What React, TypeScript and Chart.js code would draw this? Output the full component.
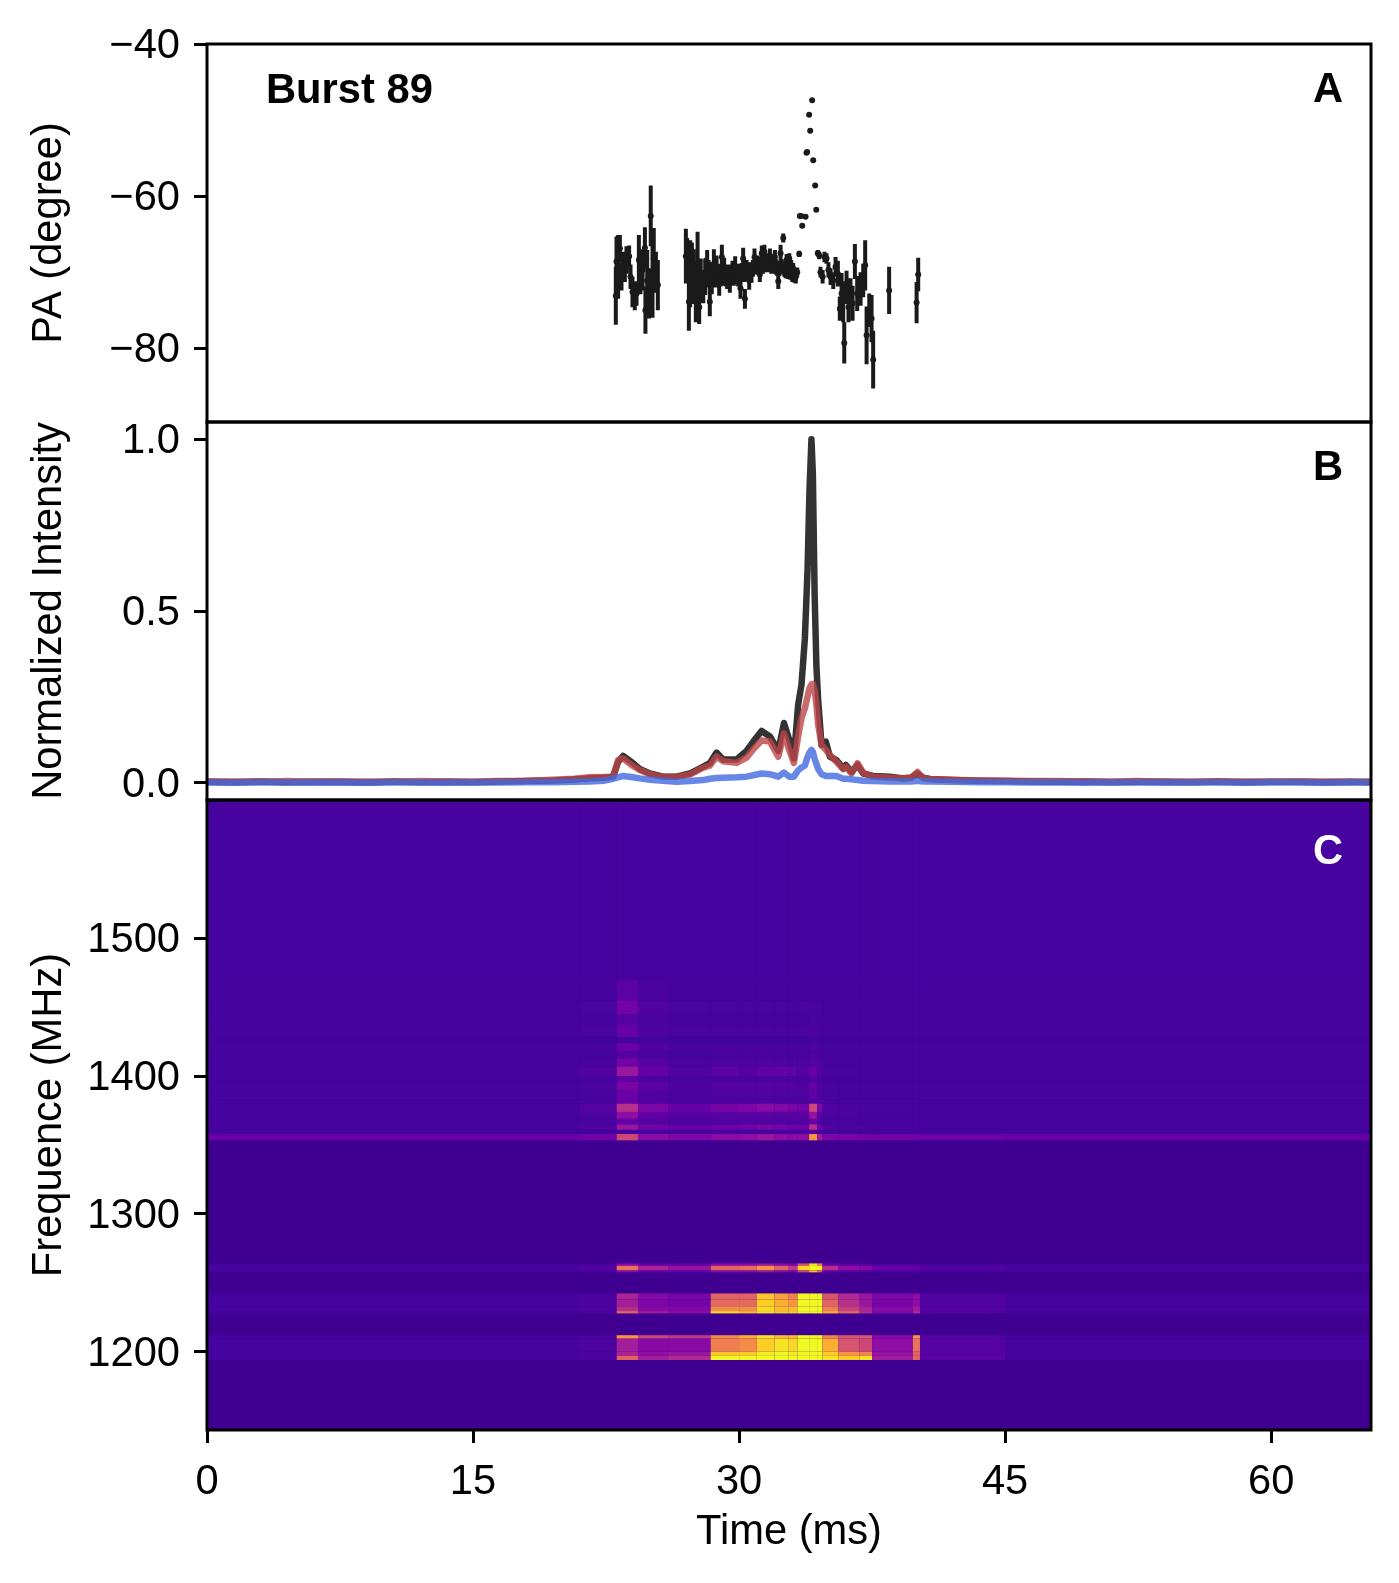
import { useRef, useEffect } from 'react';
import Chart from 'chart.js/auto';

// PA points (ms, degree, half error bar)
const paTime = [23.05, 23.09, 23.18, 23.28, 23.37, 23.46, 23.56, 23.65, 23.80, 23.88, 23.99, 24.12, 24.22, 24.35, 24.44, 24.56, 24.69, 24.72, 24.82, 24.93, 25.02, 25.12, 25.19, 25.31, 25.42,
    27.00, 27.07, 27.17, 27.24, 27.34, 27.43, 27.56, 27.66, 27.75, 27.84, 27.98, 28.09, 28.20, 28.35, 28.46, 28.58, 28.73, 28.88, 29.03, 29.16, 29.33, 29.48, 29.63, 29.78, 29.95, 30.08, 30.23, 30.33, 30.42, 30.57, 30.70, 30.87, 31.04, 31.17, 31.28, 31.43, 31.58, 31.74, 31.89, 32.02, 32.15, 32.21, 32.34, 32.41, 32.49, 32.68, 32.83, 32.94, 33.05, 33.20, 33.28, 33.39,
    33.43, 33.50, 33.56, 33.75, 33.80, 33.84, 33.95, 34.01, 34.12, 34.18, 34.29, 34.35,
    34.44, 34.52, 34.59, 34.71, 34.82, 34.93, 35.04, 35.16, 35.31, 35.44, 35.57, 35.68, 35.78, 35.87, 35.93, 36.06, 36.17, 36.28, 36.40, 36.53, 36.66, 36.85, 37.00, 37.11, 37.19, 37.34, 37.47, 37.56, 38.46, 40.01, 40.10,
    28.15, 28.28, 28.40, 28.52, 28.65, 28.80, 28.95, 29.10, 29.25, 29.40, 29.55, 29.70, 29.87, 30.02, 30.15, 30.28, 30.48, 30.63, 30.78, 30.95, 31.10, 31.22, 31.35, 31.50, 31.66, 31.82, 31.95, 32.08, 32.27, 32.55, 32.62, 32.75, 32.88, 33.00, 33.12];
const paValue = [-73.1, -68.6, -69.3, -66.9, -70.6, -68.9, -69.7, -68.4, -67.9, -70.6, -72.6, -73.2, -72.8, -68.4, -70.2, -69.7, -66.8, -75.0, -71.1, -72.8, -62.6, -70.2, -68.2, -70.0, -71.7,
    -67.9, -68.4, -73.9, -70.2, -69.7, -70.6, -72.8, -68.9, -74.6, -71.1, -71.9, -70.6, -69.3, -73.9, -71.1, -68.9, -69.5, -71.5, -68.0, -69.7, -70.6, -71.1, -70.0, -69.3, -70.4, -72.1, -68.2, -73.5, -69.7, -71.1, -70.2, -68.0, -68.9, -70.3, -67.5, -67.3, -68.4, -67.8, -68.6, -68.0, -69.5, -71.2, -67.5, -69.3, -65.5, -68.4, -68.2, -69.1, -69.5, -70.6, -70.0, -67.6,
    -62.6, -62.6, -63.9, -62.7, -54.3, -54.2, -49.3, -51.4, -47.4, -55.3, -58.6, -61.8,
    -67.5, -67.8, -70.0, -70.6, -68.0, -68.2, -69.7, -70.6, -71.1, -69.3, -70.2, -74.8, -72.8, -73.9, -79.3, -72.0, -74.6, -72.8, -74.1, -68.6, -72.8, -72.2, -71.1, -69.1, -78.3, -75.0, -76.1, -81.5, -72.4, -74.0, -70.3,
    -70.0, -70.2, -70.4, -70.3, -70.4, -70.6, -70.4, -70.3, -70.5, -70.6, -70.4, -70.5, -70.3, -70.6, -70.0, -70.1, -70.0, -69.8, -69.5, -69.2, -69.4, -69.0, -69.2, -69.0, -69.0, -69.2, -69.2, -69.3, -69.5, -69.6, -69.8, -69.9, -70.0, -70.3, -70.5];
const paError = [3.8, 3.3, 4.2, 1.8, 1.8, 1.6, 1.6, 1.8, 1.4, 1.6, 2.0, 1.8, 1.6, 3.3, 2.7, 2.7, 2.7, 3.1, 4.0, 3.3, 4.0, 5.8, 4.0, 2.7, 3.3,
    3.6, 2.9, 3.8, 4.4, 3.6, 3.6, 3.8, 4.2, 2.2, 2.9, 2.2, 2.4, 2.2, 1.9, 1.8, 1.9, 1.7, 1.6, 1.6, 1.6, 1.6, 1.6, 1.5, 1.4, 1.5, 1.4, 1.4, 1.3, 1.3, 1.2, 1.2, 1.1, 1.1, 1.0, 1.0, 0.9, 0.9, 0.9, 0.9, 0.9, 1.0, 1.0, 1.1, 1.0, 0.6, 0.8, 0.7, 0.7, 0.7, 0.9, 0.6, 0.4,
    0.2, 0.2, 0.2, 0.2, 0.2, 0.2, 0.2, 0.2, 0.2, 0.2, 0.2, 0.2,
    0.4, 0.5, 0.7, 0.9, 0.7, 0.7, 1.0, 1.1, 1.1, 1.3, 1.7, 1.6, 2.7, 2.7, 2.7, 2.2, 2.0, 2.0, 2.3, 2.3, 2.3, 2.2, 2.2, 3.3, 3.8, 2.2, 3.1, 3.8, 3.1, 2.7, 2.2,
    1.9, 1.8, 1.7, 1.6, 1.6, 1.4, 1.5, 1.5, 1.4, 1.4, 1.4, 1.3, 1.3, 1.3, 1.2, 1.2, 1.2, 1.1, 1.1, 1.1, 1.0, 1.0, 1.0, 1.0, 1.0, 1.0, 1.0, 1.0, 1.0, 1.0, 1.0, 1.0, 1.0, 1.0, 0.9];

// pulse profiles
const profileTime = [0, 1.5, 3, 4.5, 6, 7.5, 9, 10.5, 12, 13.5, 15, 16.5, 18, 19.5, 20.7,
    21.59, 22.34, 22.90, 23.18, 23.46, 23.93, 24.40, 24.97, 25.72, 26.47, 27.22, 27.98, 28.35, 28.73, 29.10, 29.86, 30.42, 30.80, 31.27, 31.74, 32.21, 32.53, 32.83, 33.09, 33.33, 33.52, 33.71, 33.86, 33.97, 34.08, 34.16, 34.26, 34.36, 34.46, 34.65, 34.89, 35.12, 35.49, 35.87, 36.02, 36.34, 36.68, 37.00, 37.56, 38.50, 39.25, 39.72, 40.06, 40.38, 40.76,
    42, 43.5, 45, 46.5, 48, 49.5, 51, 52.5, 54, 55.5, 57, 58.5, 60, 61.5, 63, 64.5, 65.63];
const totalIntensity = [.003, .002, .004, .002, .003, .003, .001, .004, .002, .003, .002, .004, .005, .007, .010,
    .013, .015, .018, .061, .078, .061, .040, .027, .018, .018, .027, .047, .057, .088, .068, .068, .093, .120, .151, .135, .093, .174, .125, .071, .227, .286, .42, .62, .85, 1.0, .9, .55, .34, .24, .110, .120, .076, .066, .042, .052, .032, .052, .027, .020, .018, .013, .015, .027, .015, .011,
    .008, .006, .005, .004, .003, .004, .002, .003, .003, .002, .004, .002, .003, .003, .002, .003, .002];
const linearIntensity = [.004, .004, .003, .005, .003, .004, .004, .003, .005, .004, .004, .005, .006, .009, .012,
    .016, .017, .018, .066, .071, .052, .037, .025, .018, .018, .024, .044, .050, .076, .063, .058, .073, .098, .123, .120, .076, .144, .095, .058, .135, .188, .217, .251, .275, .286, .288, .270, .227, .169, .110, .096, .081, .061, .040, .047, .027, .057, .029, .018, .015, .013, .016, .032, .013, .011,
    .009, .007, .006, .005, .005, .004, .004, .005, .003, .004, .004, .004, .003, .004, .004, .003, .004];
const circularIntensity = [.001, .000, .001, .001, .000, .001, .000, .001, .001, .000, .001, .001, .002, .002, .003,
    .004, .006, .012, .016, .020, .017, .013, .009, .006, .003, .005, .008, .012, .014, .015, .016, .018, .022, .027, .025, .018, .030, .018, .018, .036, .045, .050, .075, .088, .096, .090, .070, .055, .040, .025, .020, .020, .020, .012, .012, .010, .008, .006, .005, .004, .004, .004, .006, .004, .004,
    .003, .002, .002, .001, .001, .000, .001, .001, .000, .001, .001, .000, .001, .001, .000, .001, .001];

// dynamic spectrum: coarse cells, value 0..1 on the plasma map
const heatTimeEdges = [0, 21, 23.1, 24.3, 26, 28.4, 30, 31, 32, 32.8, 33.3, 33.95, 34.4, 34.7, 35.6, 36.8, 37.5, 39.8, 40.2, 45, 65.63];
const heatFreqHigh = [1600, 1470, 1455, 1445, 1437, 1428, 1424, 1418, 1413, 1407, 1400, 1396, 1390, 1383, 1380, 1374, 1369, 1365, 1361, 1358, 1264.1, 1262.3, 1259, 1242.3, 1238, 1233, 1229.5, 1212, 1209.5, 1200, 1197];
const heatFreqLow = [1470, 1455, 1445, 1437, 1428, 1424, 1418, 1413, 1407, 1400, 1396, 1390, 1383, 1380, 1374, 1369, 1365, 1361, 1358, 1353.4, 1262.3, 1259, 1257.6, 1238, 1233, 1229.5, 1227.8, 1209.5, 1200, 1197, 1194];
const heatValues = [
    [.115, .115, .115, .115, .115, .115, .115, .115, .115, .115, .115, .115, .115, .115, .115, .115, .115, .115, .115, .115],
    [.115, .115, .16, .125, .115, .115, .115, .115, .115, .115, .115, .115, .115, .115, .115, .115, .115, .115, .115, .115],
    [.115, .12, .22, .14, .12, .12, .12, .12, .12, .12, .12, .125, .12, .115, .115, .115, .115, .115, .115, .115],
    [.115, .115, .15, .12, .115, .115, .115, .115, .115, .115, .115, .12, .115, .115, .115, .115, .115, .115, .115, .115],
    [.115, .12, .19, .13, .12, .12, .12, .12, .12, .12, .12, .13, .12, .115, .115, .115, .115, .115, .115, .115],
    [.105, .105, .105, .105, .105, .105, .105, .105, .105, .105, .105, .105, .105, .105, .105, .105, .105, .105, .105, .105],
    [.115, .12, .2, .14, .125, .125, .125, .125, .125, .125, .125, .14, .125, .115, .115, .115, .115, .115, .115, .115],
    [.115, .115, .15, .12, .115, .12, .12, .12, .12, .12, .12, .13, .12, .115, .115, .115, .115, .115, .115, .115],
    [.115, .12, .22, .15, .125, .13, .13, .135, .135, .13, .13, .15, .13, .115, .115, .115, .115, .115, .115, .115],
    [.115, .14, .33, .19, .135, .16, .15, .17, .18, .16, .15, .2, .15, .12, .12, .115, .115, .115, .115, .115],
    [.115, .12, .17, .13, .12, .125, .125, .125, .125, .125, .125, .14, .125, .115, .115, .115, .115, .115, .115, .115],
    [.115, .12, .24, .16, .135, .15, .15, .15, .15, .15, .145, .19, .145, .12, .12, .115, .115, .115, .115, .115],
    [.115, .12, .2, .14, .125, .135, .135, .135, .135, .135, .135, .17, .135, .12, .115, .115, .115, .115, .115, .115],
    [.115, .12, .2, .14, .125, .13, .13, .13, .13, .13, .13, .15, .13, .115, .115, .115, .115, .115, .115, .115],
    [.115, .15, .42, .25, .19, .23, .25, .28, .26, .24, .22, .5, .25, .14, .13, .12, .12, .12, .115, .115],
    [.115, .13, .3, .18, .15, .155, .155, .16, .155, .155, .155, .32, .16, .125, .12, .115, .115, .115, .115, .115],
    [.115, .12, .18, .14, .13, .135, .135, .135, .135, .135, .135, .2, .135, .115, .115, .115, .115, .115, .115, .115],
    [.115, .14, .33, .22, .19, .21, .22, .24, .23, .21, .21, .42, .21, .14, .13, .12, .12, .12, .115, .115],
    [.105, .105, .11, .11, .11, .11, .11, .11, .11, .11, .11, .17, .11, .105, .105, .105, .105, .105, .105, .105],
    [.2, .22, .5, .29, .25, .29, .3, .33, .3, .29, .3, .75, .35, .25, .24, .23, .22, .22, .21, .2],
    [.11, .12, .3, .2, .18, .3, .3, .35, .3, .25, .55, .95, .7, .2, .17, .15, .13, .13, .12, .11],
    [.12, .15, .65, .38, .32, .6, .63, .75, .6, .45, .92, 1, 1, .42, .3, .27, .2, .2, .15, .12],
    [.11, .12, .3, .2, .18, .3, .3, .35, .3, .25, .5, .85, .6, .2, .17, .15, .13, .13, .12, .11],
    [.115, .13, .38, .27, .24, .6, .6, .88, .78, .7, 1, 1, 1, .55, .4, .33, .25, .3, .14, .115],
    [.115, .13, .36, .25, .23, .62, .62, .9, .82, .75, 1, 1, 1, .6, .42, .33, .24, .3, .14, .115],
    [.115, .13, .42, .28, .26, .72, .72, .92, .85, .85, 1, 1, 1, .68, .48, .38, .27, .35, .15, .115],
    [.115, .13, .6, .35, .3, .92, .85, .95, .9, .9, 1, 1, 1, .82, .62, .4, .26, .4, .14, .115],
    [.115, .13, .75, .5, .45, .72, .82, .95, .85, .85, 1, 1, 1, .7, .55, .55, .28, .75, .15, .115],
    [.115, .13, .36, .28, .28, .68, .72, .9, .95, .92, 1, 1, 1, .82, .55, .5, .3, .65, .15, .115],
    [.115, .13, .38, .3, .33, .88, .9, .98, 1, .98, 1, 1, 1, .9, .75, .7, .32, .6, .15, .115],
    [.115, .13, .6, .36, .4, 1, 1, 1, 1, 1, 1, 1, 1, .95, .9, .95, .35, .6, .16, .115],
];

const timeTicks = [0, 15, 30, 45, 60];
const paTicks = [-80, -60, -40];
const intensityTicks = [0, 0.5, 1];
const freqTicks = [1200, 1300, 1400, 1500];

const plasmaStops = ['#0d0887', '#41049d', '#6a00a8', '#8f0da4', '#b12a90', '#cc4778', '#e16462', '#f2844b', '#fca636', '#fcce25', '#f0f921'];
const FONT = '"Liberation Sans", Arial, sans-serif';
const FONT_SIZE = 41.7;

function plasma(v: number) {
    const pos = Math.min(Math.max(v, 0), 1) * 10;
    const i = Math.min(Math.floor(pos), 9);
    const f = pos - i;
    const a = plasmaStops[i];
    const b = plasmaStops[i + 1];
    const ch = (s: string, k: number) => parseInt(s.slice(k, k + 2), 16);
    const mix = (k: number) => Math.round(ch(a, k) + (ch(b, k) - ch(a, k)) * f);
    return `rgb(${mix(1)},${mix(3)},${mix(5)})`;
}

const spectrumPlugin = {
    id: 'spectrum',
    beforeDatasetsDraw(chart: any) {
        const { ctx, scales } = chart;
        const x = scales.x;
        const y = scales.yC;
        ctx.save();
        ctx.fillStyle = '#3f0092';
        ctx.fillRect(x.left, y.top, x.width, y.height);
        heatValues.forEach((row, r) => {
            const top = y.getPixelForValue(heatFreqHigh[r]);
            const bottom = y.getPixelForValue(heatFreqLow[r]);
            row.forEach((v, c) => {
                const left = x.getPixelForValue(heatTimeEdges[c]);
                const right = x.getPixelForValue(heatTimeEdges[c + 1]);
                ctx.fillStyle = plasma(v);
                ctx.fillRect(left, top, right - left, bottom - top);
            });
        });
        ctx.restore();
    },
    afterDatasetsDraw(chart: any) {
        const { ctx, scales } = chart;
        const x = scales.x;
        ctx.save();
        ctx.strokeStyle = '#000';
        ctx.lineWidth = 3;
        [scales.yA, scales.yB, scales.yC].forEach((y: any) => {
            ctx.strokeRect(x.left, y.top, x.width, y.height);
        });
        ctx.fillStyle = '#000';
        ctx.textBaseline = 'middle';
        ctx.font = `bold ${FONT_SIZE}px ${FONT}`;
        ctx.textAlign = 'left';
        ctx.fillText('Burst 89', x.left + 59, scales.yA.top + 48);
        ctx.textAlign = 'right';
        ctx.fillText('A', x.right - 28, scales.yA.top + 47);
        ctx.fillText('B', x.right - 28, scales.yB.top + 47);
        ctx.fillStyle = '#fff';
        ctx.fillText('C', x.right - 28, scales.yC.top + 53);
        ctx.restore();
    },
};

const tickOptions = {
    color: '#000',
    font: { family: FONT, size: FONT_SIZE },
    padding: 14,
    autoSkip: false,
    maxRotation: 0,
};

const gridOptions = {
    drawOnChartArea: false,
    drawTicks: true,
    tickLength: 13,
    tickWidth: 3,
    tickColor: '#000',
};

function yAxis(title: string, min: number, max: number, ticks: number[], weight: number, order: number, format: (v: number) => string) {
    return {
        type: 'linear',
        position: 'left',
        stack: 'panels',
        stackWeight: weight,
        weight: order,
        min,
        max,
        border: { display: false },
        grid: gridOptions,
        afterFit(scale: any) {
            scale.width = 207;
        },
        afterBuildTicks(scale: any) {
            scale.ticks = ticks.map((value) => ({ value }));
        },
        ticks: {
            ...tickOptions,
            labelOffset: 2.5,
            callback: (v: any) => format(Number(v)),
        },
        title: {
            display: true,
            text: title,
            color: '#000',
            font: { family: FONT, size: FONT_SIZE },
            padding: { top: 24, bottom: 0 },
        },
    };
}

export default function App() {
    const chartRef = useRef<HTMLCanvasElement>(null);

    useEffect(() => {
        if (!chartRef.current) return;

        const errorBars: any[] = [];
        paTime.forEach((t, i) => {
            errorBars.push({ x: t, y: paValue[i] - paError[i] });
            errorBars.push({ x: t, y: paValue[i] + paError[i] });
            errorBars.push({ x: t, y: null });
        });
        const profile = (values: number[]) => values.map((v, i) => ({ x: profileTime[i], y: v }));
        const profileStyle = {
            type: 'line',
            yAxisID: 'yB',
            borderWidth: 6.5,
            borderJoinStyle: 'round',
            borderCapStyle: 'round',
            pointRadius: 0,
        };

        // first dataset is painted last in Chart.js, so the top layer comes first
        const chart = new Chart(chartRef.current, {
            type: 'scatter',
            data: {
                datasets: [
                    {
                        type: 'scatter',
                        label: 'PA',
                        yAxisID: 'yA',
                        data: paTime.map((t, i) => ({ x: t, y: paValue[i] })),
                        backgroundColor: '#1a1a1a',
                        pointRadius: 3,
                        borderWidth: 0,
                    },
                    {
                        type: 'line',
                        label: 'PA error',
                        yAxisID: 'yA',
                        data: errorBars,
                        borderColor: '#1a1a1a',
                        borderWidth: 4,
                        borderCapStyle: 'butt',
                        pointRadius: 0,
                        spanGaps: false,
                    },
                    {
                        ...profileStyle,
                        label: 'V',
                        data: profile(circularIntensity),
                        borderColor: 'rgba(65,105,225,0.8)',
                    },
                    {
                        ...profileStyle,
                        label: 'L',
                        data: profile(linearIntensity),
                        borderColor: 'rgba(187,69,73,0.8)',
                    },
                    {
                        ...profileStyle,
                        label: 'I',
                        data: profile(totalIntensity),
                        borderColor: 'rgba(0,0,0,0.8)',
                    },
                ],
            },
            options: {
                animation: false,
                responsive: false,
                devicePixelRatio: 1,
                layout: { padding: { top: 44, right: 28, bottom: 0, left: 0 } },
                plugins: {
                    legend: { display: false },
                    tooltip: { enabled: false },
                },
                scales: {
                    x: {
                        type: 'linear',
                        position: 'bottom',
                        min: 0,
                        max: 65.63,
                        border: { display: false },
                        grid: gridOptions,
                        afterFit(scale: any) {
                            scale.height = 153;
                        },
                        afterBuildTicks(scale: any) {
                            scale.ticks = timeTicks.map((value) => ({ value }));
                        },
                        ticks: tickOptions,
                        title: {
                            display: true,
                            text: 'Time (ms)',
                            color: '#000',
                            font: { family: FONT, size: FONT_SIZE },
                            padding: { top: 0, bottom: 25 },
                        },
                    },
                    yA: yAxis('PA (degree)', -89.7, -40, paTicks, 3, 3, (v) => String(v).replace('-', '\u2212')),
                    yB: yAxis('Normalized Intensity', -0.05, 1.05, intensityTicks, 3, 2, (v) => v.toFixed(1)),
                    yC: yAxis('Frequence (MHz)', 1143.2, 1600.4, freqTicks, 5, 1, (v) => String(v)),
                },
            },
            plugins: [spectrumPlugin],
        } as any);

        return () => {
            chart.destroy();
        };
    }, []);

    return (
        <div style={{ position: 'absolute', left: 0, top: 0, width: 1399, height: 1583, background: '#fff' }}>
            <canvas ref={chartRef} width={1399} height={1583} style={{ display: 'block' }}></canvas>
        </div>
    );
}
